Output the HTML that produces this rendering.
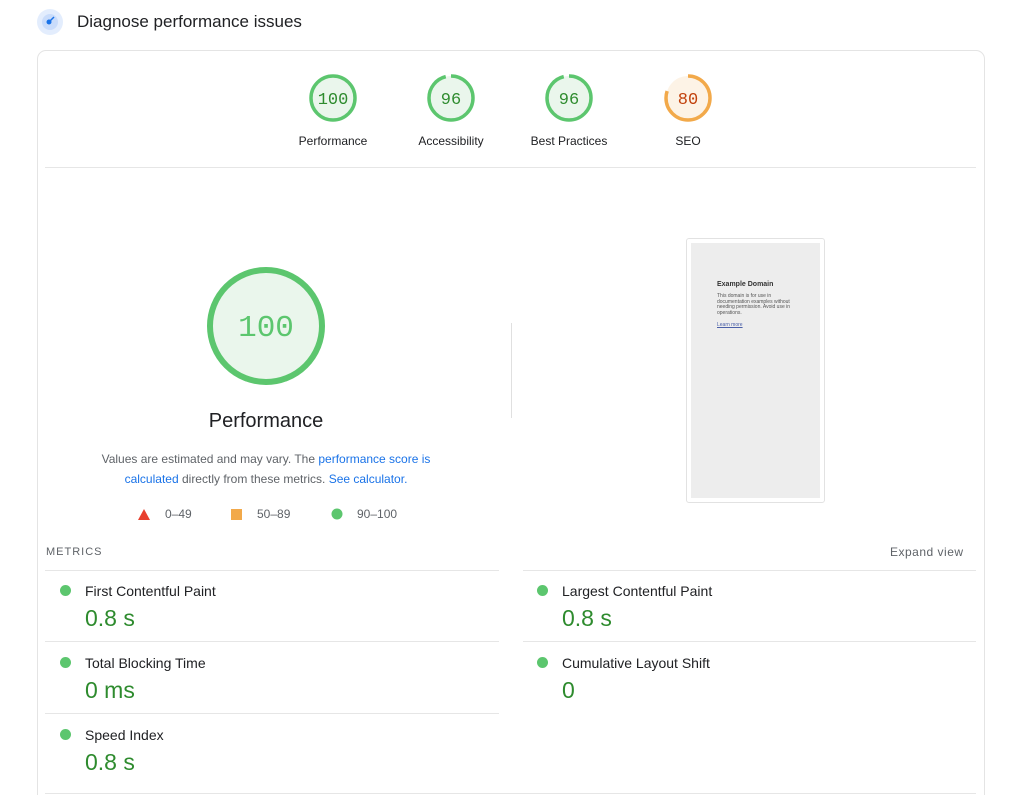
<!DOCTYPE html>
<html style="width:1024px;height:795px;overflow:hidden"><head><meta charset="utf-8"><style>
html,body{margin:0;width:1024px;height:795px;overflow:hidden}
body{background:#fff;font-family:"Liberation Sans",sans-serif;color:#202124;position:relative}
.a{position:absolute}
.lbl{font-size:12px;color:#202124;text-align:center;width:120px}
.mt{font-size:14px;color:#202124}
.mv{font-size:23px;color:#2e8b2e}
.dot{width:11px;height:11px;border-radius:50%;background:#5cc66e}
.hl{height:1px;background:#e6e6e6}
</style></head><body>
<svg class="a" style="left:36px;top:8px" width="28" height="28"><circle cx="14" cy="14" r="13" fill="#e3edfd"/><circle cx="14" cy="14" r="8" fill="#c9dcfb"/><circle cx="13" cy="14" r="2.5" fill="#1a73e8"/><path d="M14 13 L18 9" stroke="#1a73e8" stroke-width="1.5"/></svg>
<div class="a" style="left:77px;top:12px;font-size:17px;color:#202124">Diagnose performance issues</div>
<div class="a" style="left:37px;top:50px;width:946px;height:780px;border:1px solid #e4e4e4;border-radius:9px"></div>
<svg class="a" style="left:0;top:0" width="1024" height="795">
<g stroke-width="3.5" fill="none">
<circle cx="333" cy="98" r="22" fill="#eaf6ec" stroke="#5cc66e"/>
<circle cx="451" cy="98" r="22" fill="#eaf6ec" stroke="#5cc66e" stroke-dasharray="132.7 138.2" transform="rotate(-90 451 98)"/>
<circle cx="569" cy="98" r="22" fill="#eaf6ec" stroke="#5cc66e" stroke-dasharray="132.7 138.2" transform="rotate(-90 569 98)"/>
<circle cx="688" cy="98" r="22" fill="#fdf3e6" stroke="#f2a94a" stroke-dasharray="110.6 138.2" transform="rotate(-90 688 98)"/>
<circle cx="266" cy="326" r="56" fill="#eaf6ec" stroke="#5cc66e" stroke-width="6"/>
</g>
<g font-family="Liberation Mono,monospace" text-anchor="middle" font-size="17">
<text x="333" y="104" fill="#2e8b2e">100</text>
<text x="451" y="104" fill="#2e8b2e">96</text>
<text x="569" y="104" fill="#2e8b2e">96</text>
<text x="688" y="104" fill="#c2410c">80</text>
<text x="266" y="336" fill="#5cc66e" font-size="31">100</text>
</g>
<polygon points="144,509 150,520 138,520" fill="#e8402f"/>
<rect x="231" y="509" width="11" height="11" fill="#f2a94a"/>
<circle cx="337" cy="514" r="5.5" fill="#5cc66e"/>
</svg>
<div class="a lbl" style="left:273px;top:134px">Performance</div>
<div class="a lbl" style="left:391px;top:134px">Accessibility</div>
<div class="a lbl" style="left:509px;top:134px">Best Practices</div>
<div class="a lbl" style="left:628px;top:134px">SEO</div>
<div class="a hl" style="left:45px;top:167px;width:931px"></div>
<div class="a" style="left:511px;top:323px;width:1px;height:95px;background:#e0e0e0"></div>
<div class="a" style="left:166px;top:410px;width:200px;text-align:center;font-size:20px">Performance</div>
<div class="a" style="left:80px;top:449px;width:372px;text-align:center;font-size:12px;line-height:20px;color:#5f6368">Values are estimated and may vary. The <span style="color:#1a73e8">performance score is calculated</span> directly from these metrics. <span style="color:#1a73e8">See calculator.</span></div>
<div class="a" style="left:165px;top:507px;font-size:12px;color:#5f6368">0–49</div>
<div class="a" style="left:257px;top:507px;font-size:12px;color:#5f6368">50–89</div>
<div class="a" style="left:357px;top:507px;font-size:12px;color:#5f6368">90–100</div>
<div class="a" style="left:686px;top:238px;width:137px;height:263px;border:1px solid #e2e2e2;border-radius:3px;background:#fff"></div>
<div class="a" style="left:691px;top:243px;width:129px;height:255px;background:#ededed"></div>
<div class="a" style="left:717px;top:281px;font-size:7px;font-weight:bold;color:#333">Example Domain</div>
<div class="a" style="left:717px;top:294px;width:80px;font-size:5px;line-height:5.5px;color:#555">This domain is for use in documentation examples without needing permission. Avoid use in operations.</div>
<div class="a" style="left:717px;top:322px;font-size:5px;color:#4a5fa8;text-decoration:underline">Learn more</div>
<div class="a" style="left:46px;top:546px;font-size:11px;letter-spacing:1px;color:#5f6368">METRICS</div>
<div class="a" style="left:890px;top:545px;font-size:12px;letter-spacing:.5px;color:#5f6368">Expand view</div>
<div class="a hl" style="left:45px;top:570px;width:454px"></div><div class="a hl" style="left:523px;top:570px;width:453px"></div>
<div class="a hl" style="left:45px;top:641px;width:454px"></div><div class="a hl" style="left:523px;top:641px;width:453px"></div>
<div class="a hl" style="left:45px;top:713px;width:454px"></div>
<div class="a hl" style="left:45px;top:793px;width:931px"></div>
<div class="a dot" style="left:60px;top:585px"></div><div class="a mt" style="left:85px;top:583px">First Contentful Paint</div><div class="a mv" style="left:85px;top:605px">0.8 s</div>
<div class="a dot" style="left:537px;top:585px"></div><div class="a mt" style="left:562px;top:583px">Largest Contentful Paint</div><div class="a mv" style="left:562px;top:605px">0.8 s</div>
<div class="a dot" style="left:60px;top:657px"></div><div class="a mt" style="left:85px;top:655px">Total Blocking Time</div><div class="a mv" style="left:85px;top:677px">0 ms</div>
<div class="a dot" style="left:537px;top:657px"></div><div class="a mt" style="left:562px;top:655px">Cumulative Layout Shift</div><div class="a mv" style="left:562px;top:677px">0</div>
<div class="a dot" style="left:60px;top:729px"></div><div class="a mt" style="left:85px;top:727px">Speed Index</div><div class="a mv" style="left:85px;top:749px">0.8 s</div>
</body></html>
